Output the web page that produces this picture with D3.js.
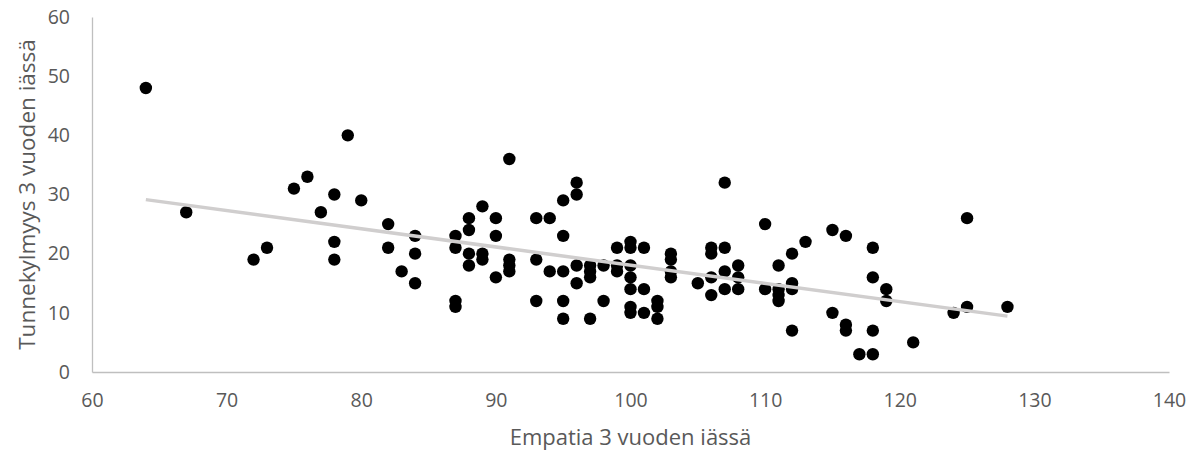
<!DOCTYPE html>
<html>
<head>
<meta charset="utf-8">
<script src="https://cdn.jsdelivr.net/npm/d3@7"></script>
<style>
  body { margin: 0; background: #fff; }
  text { font-family: "Open Sans", "Noto Sans", sans-serif; fill: #595959; }
</style>
</head>
<body>
<div id="chart"></div>
<script>
// empathy at age 3 (x) vs. callousness at age 3 (y)
var empatia = [64, 67, 72, 73, 75, 76, 77, 78, 78, 78, 79, 80,
  82, 82, 83, 84, 84, 84, 87, 87, 87, 87,
  88, 88, 88, 88, 89, 89, 89, 90, 90, 90,
  91, 91, 91, 91, 93, 93, 93, 94, 94,
  95, 95, 95, 95, 95, 96, 96, 96, 96,
  97, 97, 97, 97, 98, 98, 99, 99, 99,
  100, 100, 100, 100, 100, 100, 100, 101, 101, 101,
  102, 102, 102, 103, 103, 103, 103, 105,
  106, 106, 106, 106, 107, 107, 107, 107, 108, 108, 108,
  110, 110, 111, 111, 111, 111, 112, 112, 112, 112, 113,
  115, 115, 116, 116, 116, 117, 118, 118, 118, 118, 119, 119,
  121, 124, 125, 125, 128];
var tunnekylmyys = [48, 27, 19, 21, 31, 33, 27, 30, 22, 19, 40, 29,
  25, 21, 17, 23, 20, 15, 23, 21, 12, 11,
  26, 24, 20, 18, 28, 20, 19, 26, 23, 16,
  36, 19, 18, 17, 26, 19, 12, 26, 17,
  29, 23, 17, 12, 9, 32, 30, 18, 15,
  18, 17, 16, 9, 18, 12, 21, 18, 17,
  22, 21, 18, 16, 14, 11, 10, 21, 14, 10,
  12, 11, 9, 20, 19, 17, 16, 15,
  21, 20, 16, 13, 32, 21, 17, 14, 18, 16, 14,
  25, 14, 18, 14, 13, 12, 20, 15, 14, 7, 22,
  24, 10, 23, 8, 7, 3, 21, 16, 7, 3, 14, 12,
  5, 10, 26, 11, 11];
var xTicks = [60, 70, 80, 90, 100, 110, 120, 130, 140];
var yTicks = [0, 10, 20, 30, 40, 50, 60];
var xTitle = "Empatia 3 vuoden iässä";
var yTitle = "Tunnekylmyys 3 vuoden iässä";

var width = 1196, height = 454;
var margin = {top: 17, right: 27, bottom: 82, left: 92};

var svg = d3.select("#chart").append("svg")
    .attr("width", width)
    .attr("height", height);

var x = d3.scaleLinear().domain([60, 140]).range([margin.left, width - margin.right]);
var y = d3.scaleLinear().domain([0, 60]).range([height - margin.bottom, margin.top]);

// axes: plain grey lines, no tick marks
svg.append("g")
    .attr("transform", "translate(0," + y(0) + ")")
    .call(d3.axisBottom(x).tickValues(xTicks).tickSize(0).tickPadding(21));
svg.append("g")
    .attr("transform", "translate(" + x(60) + ",0)")
    .call(d3.axisLeft(y).tickValues(yTicks).tickSize(0).tickPadding(22));

svg.selectAll(".domain").attr("stroke", "#bfbfbf").attr("stroke-width", 1.3);
svg.selectAll(".tick text")
    .attr("fill", "#595959")
    .style("font-size", "19.5px")
    .style("font-family", "'Open Sans', 'Noto Sans', sans-serif");

// least squares trend line, as Excel draws it
var pts = empatia.map(function(d, i) { return [d, tunnekylmyys[i]]; });
var mx = d3.mean(empatia), my = d3.mean(tunnekylmyys);
var sxy = d3.sum(pts, function(p) { return (p[0] - mx) * (p[1] - my); });
var sxx = d3.sum(pts, function(p) { return (p[0] - mx) * (p[0] - mx); });
var slope = sxy / sxx, icept = my - slope * mx;
var xr = d3.extent(empatia);

svg.append("g").selectAll("circle")
    .data(pts)
    .enter().append("circle")
    .attr("cx", function(d) { return x(d[0]); })
    .attr("cy", function(d) { return y(d[1]); })
    .attr("r", 6.2)
    .attr("fill", "#000");

svg.append("line")
    .attr("x1", x(xr[0])).attr("y1", y(icept + slope * xr[0]))
    .attr("x2", x(xr[1])).attr("y2", y(icept + slope * xr[1]))
    .attr("stroke", "#d0cece")
    .attr("stroke-width", 3.5);

// titles
svg.append("text")
    .attr("x", (x(60) + x(140)) / 2)
    .attr("y", 445)
    .attr("text-anchor", "middle")
    .style("font-size", "22px")
    .text(xTitle);

svg.append("text")
    .attr("transform", "translate(35," + (y(0) + y(60)) / 2 + ") rotate(-90)")
    .attr("text-anchor", "middle")
    .style("font-size", "22.5px")
    .text(yTitle);
</script>
</body>
</html>
